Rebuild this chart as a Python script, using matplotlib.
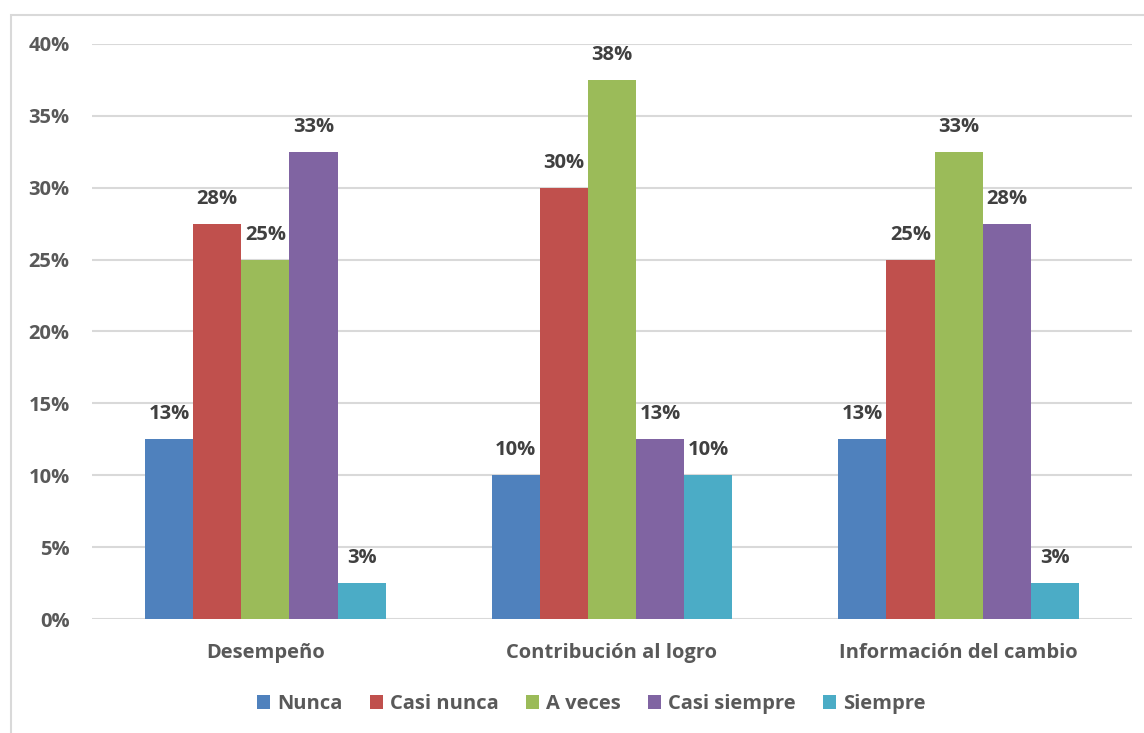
import numpy as np
import matplotlib
matplotlib.use('Agg')
from matplotlib import pyplot as plt
from matplotlib.patches import Rectangle

# data (percent)
categories = ['Desempeño', 'Contribución al logro', 'Información del cambio']
series = ['Nunca', 'Casi nunca', 'A veces', 'Casi siempre', 'Siempre']
nunca = [12.5, 10, 12.5]
casi_nunca = [27.5, 30, 25]
a_veces = [25, 37.5, 32.5]
casi_siempre = [32.5, 12.5, 27.5]
siempre = [2.5, 10, 2.5]
colors = ['#4f81bd', '#c0504d', '#9bbb59', '#8064a2', '#4bacc6']

plt.rcParams['font.family'] = ['Open Sans', 'DejaVu Sans']
plt.rcParams['font.weight'] = 'bold'
fs = 14.5

fig = plt.figure(figsize=(11.44, 7.33), dpi=100)
ax = fig.add_axes([0.0804, 0.1555, 0.9091, 0.7845])

# light frame around the chart area
fig.patches.append(Rectangle((11/1144, -0.01), 1.2, 1 - 15/733 + 0.01, transform=fig.transFigure,
                             fill=False, edgecolor='#d9d9d9', linewidth=1.5))

x = np.arange(len(categories))
w = 0.139
all_vals = [nunca, casi_nunca, a_veces, casi_siempre, siempre]
for i, vals in enumerate(all_vals):
    pos = x + (i - 2) * w
    bars = ax.bar(pos, vals, width=w, color=colors[i], label=series[i], zorder=3)
    for b, v in zip(bars, vals):
        ax.annotate(f'{int(v + 0.5)}%',
                    (b.get_x() + b.get_width() / 2, v), xytext=(0, 25),
                    textcoords='offset pixels', ha='center', va='center',
                    fontsize=fs, fontweight='bold', color='#404040', zorder=4)

ax.set_xlim(-0.5, 2.5)
ax.set_ylim(0, 40)
ax.set_yticks(range(0, 41, 5))
ax.set_yticklabels([f'{t}%' for t in range(0, 41, 5)], fontweight='bold')
ax.set_xticks(x)
ax.set_xticklabels(categories, fontweight='bold')
ax.tick_params(axis='both', length=0, labelsize=fs, colors='#595959')
ax.tick_params(axis='y', pad=16)
ax.tick_params(axis='x', pad=17)
ax.grid(axis='y', color='#d9d9d9', linewidth=1.5, zorder=0)
for s in ax.spines.values():
    s.set_visible(False)

leg = fig.legend(loc='center', bbox_to_anchor=(0.517, 1 - 704/733), ncol=5, frameon=False,
                 prop={'size': fs, 'weight': 'bold'}, handlelength=0.65, handleheight=0.65,
                 handletextpad=0.35, columnspacing=1.35)
for t in leg.get_texts():
    t.set_color('#595959')

plt.savefig('out.png', dpi=100)
